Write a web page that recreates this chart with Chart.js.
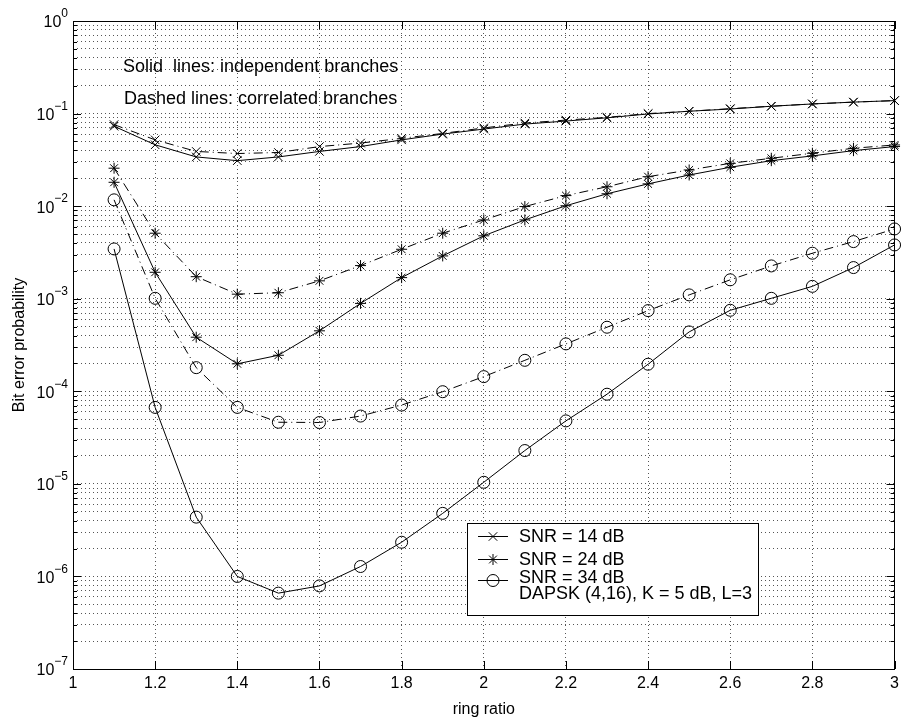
<!DOCTYPE html>
<html>
<head>
<meta charset="utf-8">
<script src="https://cdn.jsdelivr.net/npm/chart.js@4.4.1/dist/chart.umd.min.js"></script>
<style>
  body { margin: 0; background: #fff; }
  #ber_chart { display: block; }
</style>
</head>
<body>
<canvas id="ber_chart" width="904" height="721"></canvas>
<script>
// ring ratio (x axis)
var ring_ratio = [1.1, 1.2, 1.3, 1.4, 1.5, 1.6, 1.7, 1.8, 1.9, 2.0, 2.1, 2.2, 2.3, 2.4, 2.5, 2.6, 2.7, 2.8, 2.9, 3.0]

// SNR = 14 dB
var snr14_indep = [0.073, 0.046, 0.034, 0.031, 0.034, 0.039, 0.044, 0.052, 0.060, 0.068, 0.077, 0.083, 0.090, 0.099, 0.106, 0.112, 0.120, 0.127, 0.133, 0.138]
var snr14_corr = [0.076, 0.052, 0.039, 0.037, 0.038, 0.044, 0.048, 0.054, 0.061, 0.070, 0.079, 0.085, 0.091, 0.100, 0.106, 0.113, 0.120, 0.127, 0.133, 0.138]

// SNR = 24 dB
var snr24_indep = [0.0181, 0.00193, 3.84e-4, 1.98e-4, 2.45e-4, 4.5e-4, 8.9e-4, 1.69e-3, 2.9e-3, 4.78e-3, 7.1e-3, 0.0101, 0.0136, 0.0174, 0.0217, 0.0263, 0.031, 0.0349, 0.0398, 0.044]
var snr24_corr = [0.0257, 5.1e-3, 1.73e-3, 1.12e-3, 1.16e-3, 1.56e-3, 2.28e-3, 3.42e-3, 5.1e-3, 7.1e-3, 9.9e-3, 0.013, 0.0162, 0.0208, 0.0246, 0.029, 0.0329, 0.0373, 0.0422, 0.0458]

// SNR = 34 dB
var snr34_indep = [3.45e-3, 6.7e-5, 4.37e-6, 1.0e-6, 6.6e-7, 7.9e-7, 1.28e-6, 2.34e-6, 4.8e-6, 1.04e-5, 2.29e-5, 4.79e-5, 9.3e-5, 1.96e-4, 4.38e-4, 7.5e-4, 1.01e-3, 1.36e-3, 2.17e-3, 3.81e-3]
var snr34_corr = [0.0117, 1.01e-3, 1.8e-4, 6.7e-5, 4.63e-5, 4.6e-5, 5.4e-5, 7.1e-5, 9.9e-5, 1.44e-4, 2.16e-4, 3.25e-4, 4.92e-4, 7.44e-4, 1.1e-3, 1.6e-3, 2.26e-3, 3.1e-3, 4.14e-3, 5.67e-3]

// axis ticks
var x_ticks = [1, 1.2, 1.4, 1.6, 1.8, 2, 2.2, 2.4, 2.6, 2.8, 3]
var y_exponents = [-7, -6, -5, -4, -3, -2, -1, 0]

// texts
var legend_labels = ['SNR = 14 dB', 'SNR = 24 dB', 'SNR = 34 dB']
var legend_markers = ['crossRot', 'star', 'circle']
var legend_note = 'DAPSK (4,16), K = 5 dB, L=3'
var notes = ['Solid  lines: independent branches', 'Dashed lines: correlated branches']

var FONT = '"Liberation Sans", Arial, Helvetica, sans-serif'
var DASH_DOT = [9, 4, 1, 4]

const markerSize = (m) => m == 'circle' ? 6 : (m == 'star' ? 5.5 : 6)

const toPoints = (ys) => ys.map((v, i) => ({x: ring_ratio[i], y: v}))

const makeSet = (label, ys, marker, dashed) => {
  return {
    label: label,
    data: toPoints(ys),
    borderColor: '#000',
    borderWidth: 1,
    borderDash: dashed ? DASH_DOT : [],
    pointStyle: marker,
    pointRadius: markerSize(marker),
    pointBorderColor: '#000',
    pointBorderWidth: 1,
    pointBackgroundColor: 'rgba(0,0,0,0)',
    fill: false,
    tension: 0,
    clip: false
  }
}

// same shapes as chart.js point styles, used for legend samples
const drawMarker = (ctx, style, x, y, r) => {
  ctx.beginPath()
  if (style == 'circle') {
    ctx.arc(x, y, r, 0, 2 * Math.PI)
  } else {
    var d = r * Math.SQRT1_2
    ctx.moveTo(x - d, y - d); ctx.lineTo(x + d, y + d)
    ctx.moveTo(x - d, y + d); ctx.lineTo(x + d, y - d)
    if (style == 'star') {
      ctx.moveTo(x - r, y); ctx.lineTo(x + r, y)
      ctx.moveTo(x, y - r); ctx.lineTo(x, y + r)
    }
  }
  ctx.stroke()
}

// box, inward ticks, y labels, notes and legend (matlab look)
const framePlugin = {
  id: 'frame',
  afterDraw: (chart) => {
    var ctx = chart.ctx
    var a = chart.chartArea
    var xs = chart.scales.x
    var ys = chart.scales.y
    ctx.save()
    ctx.strokeStyle = '#000'
    ctx.lineWidth = 1
    ctx.setLineDash([])

    // frame
    ctx.strokeRect(Math.round(a.left) + 0.5, Math.round(a.top) + 0.5, Math.round(a.right - a.left) - 1, Math.round(a.bottom - a.top))

    ctx.beginPath()
    x_ticks.forEach((t) => {
      var px = Math.round(xs.getPixelForValue(t)) + 0.5
      ctx.moveTo(px, a.bottom); ctx.lineTo(px, a.bottom - 8)
      ctx.moveTo(px, a.top); ctx.lineTo(px, a.top + 8)
    })
    y_exponents.forEach((e) => {
      for (var m = 1; m <= 9; m++) {
        var v = m * Math.pow(10, e)
        if (v > 1) break
        var py = Math.round(ys.getPixelForValue(v)) + 0.5
        var len = m == 1 ? 8 : 4
        ctx.moveTo(a.left, py); ctx.lineTo(a.left + len, py)
        ctx.moveTo(a.right, py); ctx.lineTo(a.right - len, py)
      }
    })
    ctx.stroke()

    // y tick labels 10^e
    ctx.fillStyle = '#000'
    ctx.textBaseline = 'middle'
    y_exponents.forEach((e) => {
      var py = ys.getPixelForValue(Math.pow(10, e))
      var ex = String(e).replace('-', '\u2212')
      ctx.font = '12px ' + FONT
      var ew = ctx.measureText(ex).width
      var right = a.left - 5
      ctx.textAlign = 'left'
      ctx.fillText(ex, right - ew, py - 7)
      ctx.font = '16px ' + FONT
      ctx.textAlign = 'right'
      ctx.fillText('10', right - ew, py + 2)
    })

    // notes
    ctx.font = '18px ' + FONT
    ctx.textAlign = 'left'
    ctx.fillText(notes[0], 123, 67)
    ctx.fillText(notes[1], 124, 99)

    // legend
    var lx = 467.5, ly = 523.5, lw = 291, lh = 92
    ctx.fillStyle = '#fff'
    ctx.fillRect(lx, ly, lw, lh)
    ctx.strokeRect(lx, ly, lw, lh)
    ctx.fillStyle = '#000'
    var rows = [536, 559, 580]
    rows.forEach((ry, i) => {
      ctx.beginPath()
      ctx.moveTo(478, ry + 0.5); ctx.lineTo(508, ry + 0.5)
      ctx.stroke()
      drawMarker(ctx, legend_markers[i], 493, ry + 0.5, markerSize(legend_markers[i]))
      ctx.fillText(legend_labels[i], 519, i == 2 ? ry - 2 : ry + 1)
    })
    ctx.fillText(legend_note, 519, 594)
    ctx.restore()
  }
}

Chart.defaults.font.family = FONT
Chart.defaults.color = '#000'

var ctx = document.getElementById('ber_chart').getContext('2d')
new Chart(ctx, {
  type: 'line',
  data: {
    datasets: [
      makeSet('SNR = 14 dB', snr14_indep, 'crossRot', false),
      makeSet('SNR = 14 dB corr', snr14_corr, 'crossRot', true),
      makeSet('SNR = 24 dB', snr24_indep, 'star', false),
      makeSet('SNR = 24 dB corr', snr24_corr, 'star', true),
      makeSet('SNR = 34 dB', snr34_indep, 'circle', false),
      makeSet('SNR = 34 dB corr', snr34_corr, 'circle', true)
    ]
  },
  options: {
    responsive: false,
    animation: false,
    layout: { padding: { top: 21, right: 7, left: 0, bottom: 0 } },
    plugins: {
      legend: { display: false },
      tooltip: { enabled: false }
    },
    scales: {
      x: {
        type: 'linear',
        min: 1,
        max: 3,
        afterBuildTicks: (axis) => { axis.ticks = x_ticks.map((v) => ({value: v})) },
        afterFit: (axis) => { axis.height = 52 },
        ticks: {
          autoSkip: false,
          maxRotation: 0,
          padding: 5,
          font: { size: 16 },
          callback: (v) => String(Number(v.toFixed(1)))
        },
        grid: { color: '#555', lineWidth: 1, drawTicks: false },
        border: { display: false, dash: [1, 3] },
        title: { display: true, text: 'ring ratio', font: { size: 16 }, padding: { top: 0, bottom: 2 } }
      },
      y: {
        type: 'logarithmic',
        min: 1e-7,
        max: 1,
        afterBuildTicks: (axis) => {
          var t = []
          y_exponents.forEach((e) => {
            for (var m = 1; m <= 9; m++) {
              var v = m * Math.pow(10, e)
              if (v <= 1) t.push({value: v})
            }
          })
          axis.ticks = t
        },
        afterFit: (axis) => { axis.width = 73 },
        ticks: { autoSkip: false, callback: () => '' },
        grid: { color: '#555', lineWidth: 1, drawTicks: false },
        border: { display: false, dash: [1, 3] },
        title: { display: true, text: 'Bit error probability', font: { size: 16 }, padding: { top: 10, bottom: 0 } }
      }
    }
  },
  plugins: [framePlugin]
})
</script>
</body>
</html>
